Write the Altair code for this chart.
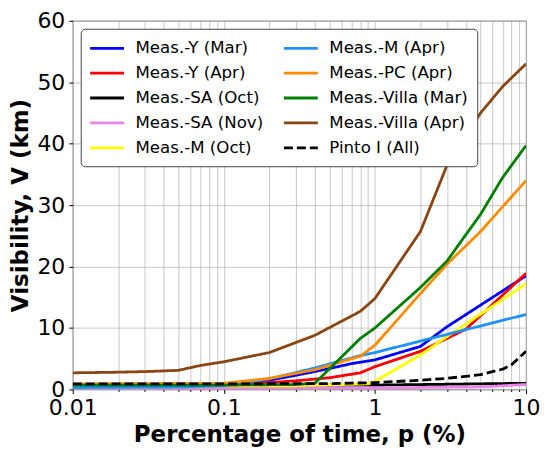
import altair as alt
import pandas as pd

# ---- data ----
series_plot_order = [
    "Meas.-Y (Mar)", "Meas.-Y (Apr)", "Meas.-SA (Oct)", "Meas.-SA (Nov)", "Meas.-M (Oct)",
    "Meas.-M (Apr)", "Meas.-PC (Apr)", "Meas.-Villa (Mar)", "Meas.-Villa (Apr)", "Pinto I (All)",
]
colors = ["#0000ff", "#ff0000", "#000000", "#ee82ee", "#ffff00",
          "#1e90ff", "#ff8c00", "#008000", "#8b4513", "#000000"]
dashes = [[1, 0]] * 9 + [[9, 4]]

y_mar_x = [0.01, 0.1, 0.2, 0.3, 0.5, 0.7, 1, 2, 3, 10]
y_mar_v = [0.6, 0.8, 1.5, 2.3, 3.4, 4.2, 4.8, 7.0, 10.2, 18.5]

y_apr_x = [0.01, 0.1, 0.2, 0.3, 0.5, 0.8, 1, 2, 4, 10]
y_apr_v = [0.7, 0.9, 1.1, 1.4, 1.9, 2.7, 3.7, 6.2, 9.8, 18.9]

sa_oct_x = [0.01, 1, 10]
sa_oct_v = [0.6, 0.7, 1.0]

sa_nov_x = [0.01, 1, 5, 10]
sa_nov_v = [0.2, 0.25, 0.4, 0.8]

m_oct_x = [0.01, 0.3, 0.9, 1, 2, 3, 10]
m_oct_v = [0.5, 0.6, 0.9, 1.3, 5.6, 8.6, 17.2]

m_apr_x = [0.01, 0.05, 0.1, 0.2, 0.4, 0.8, 1, 10]
m_apr_v = [0.3, 0.4, 0.6, 1.7, 3.5, 5.5, 6.0, 12.2]

pc_apr_x = [0.01, 0.1, 0.2, 0.4, 0.8, 1, 2, 3, 5, 10]
pc_apr_v = [0.9, 1.0, 1.8, 3.2, 5.4, 7.2, 15.6, 20.4, 25.7, 34.0]

villa_mar_x = [0.01, 0.1, 0.3, 0.4, 0.8, 1, 2, 3, 4, 5, 7, 10]
villa_mar_v = [0.7, 0.7, 0.8, 1.0, 8.3, 10.0, 16.6, 20.9, 25.2, 28.5, 34.5, 39.7]

villa_apr_x = [0.01, 0.02, 0.03, 0.05, 0.07, 0.1, 0.2, 0.4, 0.8, 1, 2, 3, 5, 7, 10]
villa_apr_v = [2.7, 2.8, 2.9, 3.1, 3.9, 4.5, 6.0, 8.8, 12.7, 14.8, 25.7, 36.5, 45.0, 49.3, 53.0]

pinto_x = [0.01, 0.1, 0.5, 1, 2, 3, 5, 7, 8, 10]
pinto_v = [0.9, 0.9, 0.95, 1.1, 1.5, 1.8, 2.4, 3.3, 4.0, 6.2]

all_x = [y_mar_x, y_apr_x, sa_oct_x, sa_nov_x, m_oct_x, m_apr_x, pc_apr_x, villa_mar_x, villa_apr_x, pinto_x]
all_v = [y_mar_v, y_apr_v, sa_oct_v, sa_nov_v, m_oct_v, m_apr_v, pc_apr_v, villa_mar_v, villa_apr_v, pinto_v]

x_ticks = [0.01, 0.02, 0.03, 0.04, 0.05, 0.06, 0.07, 0.08, 0.09,
           0.1, 0.2, 0.3, 0.4, 0.5, 0.6, 0.7, 0.8, 0.9,
           1, 2, 3, 4, 5, 6, 7, 8, 9, 10]
y_ticks = [0, 10, 20, 30, 40, 50, 60]

rows = []
for i, (name, xs, vs) in enumerate(zip(series_plot_order, all_x, all_v)):
    for j, (x, v) in enumerate(zip(xs, vs)):
        rows.append({"series": name, "p": x, "V": v, "k": i, "o": j})
df = pd.DataFrame(rows)

decade_test = "abs(log(datum.value)/LN10 - round(log(datum.value)/LN10)) < 1e-6"

# long line symbol offset to the left inside a small layout box
legend_symbol = "M-1.18,0H2.82"

chart = alt.Chart(df).mark_line(strokeWidth=2.8, clip=True).encode(
    x=alt.X("p:Q",
            scale=alt.Scale(type="log", domain=[0.01, 10], nice=False),
            axis=alt.Axis(title="Percentage of time, p (%)", values=x_ticks,
                          labelExpr=f"{decade_test} ? datum.label : ''",
                          format="~g", labelFlush=False, labelAlign="center",
                          labelOverlap=False,
                          tickSize={"condition": {"test": decade_test, "value": 4}, "value": 2})),
    y=alt.Y("V:Q",
            scale=alt.Scale(domain=[0, 60], nice=False),
            axis=alt.Axis(title="Visibility, V (km)", values=y_ticks, tickSize=4,
                          labelFlush=False)),
    color=alt.Color("series:N", scale=alt.Scale(domain=series_plot_order, range=colors),
                    legend=alt.Legend(title=None, orient="top-left", columns=2,
                                      offset=8, symbolType=legend_symbol, symbolSize=289,
                                      symbolStrokeWidth=2.8, labelFontSize=16.7,
                                      labelFont="DejaVu Sans", labelColor="#000",
                                      rowPadding=6.0, columnPadding=14.5, labelOffset=25.5,
                                      padding=9.5, fillColor="white", strokeColor="#444",
                                      cornerRadius=4)),
    strokeDash=alt.StrokeDash("series:N", scale=alt.Scale(domain=series_plot_order, range=dashes)),
    detail="k:N",
    order="o:Q",
).properties(
    width=455, height=370,
    autosize=alt.AutoSizeParams(type="none"),
    padding={"left": 65, "top": 12, "right": 16, "bottom": 65},
).configure_axis(
    labelFont="DejaVu Sans", titleFont="DejaVu Sans",
    labelFontSize=22, titleFontSize=23, titleFontWeight="bold",
    labelColor="#000", titleColor="#000",
    grid=True, gridColor="#b0b0b0", gridOpacity=0.7, gridWidth=1,
    domain=False, tickColor="#000", labelPadding=4,
).configure_axisX(titlePadding=5).configure_axisY(titlePadding=4).configure_view(
    stroke="#999999", strokeWidth=1.2
)

chart.save("out.html", embed_options={"renderer": "svg", "actions": False})
